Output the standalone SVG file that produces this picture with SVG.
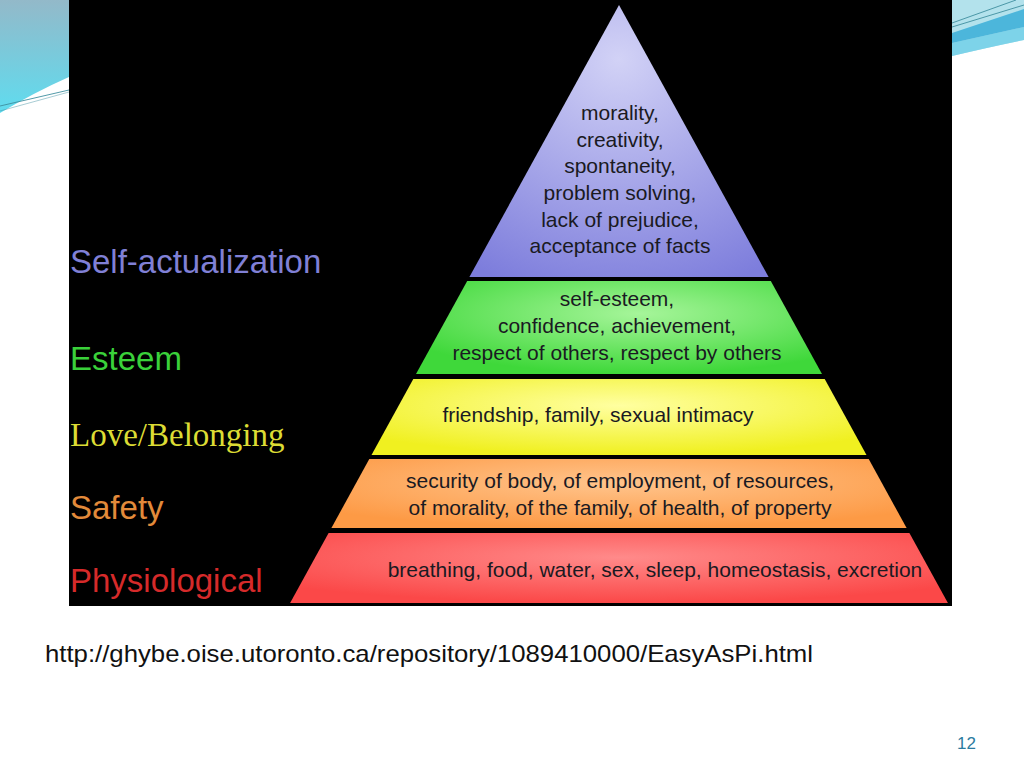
<svg xmlns="http://www.w3.org/2000/svg" width="1024" height="768" viewBox="0 0 1024 768">
<defs>
<linearGradient id="tlG" x1="0" y1="0" x2="0" y2="1">
<stop offset="0" stop-color="#93b9c9"/><stop offset="1" stop-color="#5fdcef"/>
</linearGradient>
<radialGradient id="gTop" cx="0.5" cy="0.2" r="0.9">
<stop offset="0" stop-color="#d2d2f6"/><stop offset="1" stop-color="#7d7ddc"/>
</radialGradient>
<radialGradient id="gGreen" cx="0.55" cy="0.35" r="0.65">
<stop offset="0" stop-color="#a6f59a"/><stop offset="1" stop-color="#3fd83a"/>
</radialGradient>
<radialGradient id="gYellow" cx="0.5" cy="0.35" r="0.65">
<stop offset="0" stop-color="#ffffa0"/><stop offset="1" stop-color="#f0f020"/>
</radialGradient>
<radialGradient id="gOrange" cx="0.5" cy="0.35" r="0.65">
<stop offset="0" stop-color="#ffc48c"/><stop offset="1" stop-color="#fd9a45"/>
</radialGradient>
<radialGradient id="gRed" cx="0.5" cy="0.35" r="0.65">
<stop offset="0" stop-color="#ff8a8a"/><stop offset="1" stop-color="#fb4848"/>
</radialGradient>
<style>
.tt{font-family:"Liberation Sans",Arial,sans-serif;font-size:21px;fill:#1a1a22;text-anchor:middle}
.lab{font-family:"Liberation Sans",Arial,sans-serif;font-size:33px}
.deco{fill:none;stroke:#3f8f9f;stroke-width:0.9}
</style>
</defs>
<rect x="0" y="0" width="1024" height="768" fill="#ffffff"/>
<g id="decoration">
<path d="M0,0 H69 V77 Q35,92 0,113 Z" fill="url(#tlG)"/>
<path class="deco" d="M0,106 L69,90"/>
<path class="deco" d="M0,111 L69,92" stroke-opacity="0.5"/>
<path d="M952,0 H1024 V40 Q990,47 952,56 Z" fill="#b3e2ec"/>
<path d="M952,43 L1024,27 V40 Q990,47 952,56 Z" fill="#7dd3e9"/>
<path d="M952,33 L1024,9 V27 L952,43 Z" fill="#4cb6db"/>
<path class="deco" d="M952,23 L1016,0"/>
<path class="deco" d="M952,27 L1024,5"/>
</g>
<rect id="panel" x="69" y="0" width="883" height="606" fill="#000000"/>
<g id="labels">
<text class="lab" x="70" y="273" fill="#8080d6">Self-actualization</text>
<text class="lab" x="70" y="370" fill="#3ad13a">Esteem</text>
<text class="lab" x="70" y="446" fill="#dcdc34" style="font-family:'Liberation Serif','Times New Roman',serif">Love/Belonging</text>
<text class="lab" x="70" y="519" fill="#e28a3a">Safety</text>
<text class="lab" x="70" y="592" fill="#d62a2a">Physiological</text>
</g>
<g id="tier-self-actualization">
<polygon points="619,5 768.6,277 469.4,277" fill="url(#gTop)"/>
<text class="tt" x="620" y="120">morality,</text>
<text class="tt" x="620" y="147">creativity,</text>
<text class="tt" x="620" y="173">spontaneity,</text>
<text class="tt" x="620" y="200">problem solving,</text>
<text class="tt" x="620" y="227">lack of prejudice,</text>
<text class="tt" x="620" y="253">acceptance of facts</text>
</g>
<g id="tier-esteem">
<polygon points="467.2,281 770.8,281 822,374 416,374" fill="url(#gGreen)"/>
<text class="tt" x="617" y="306">self-esteem,</text>
<text class="tt" x="617" y="333">confidence, achievement,</text>
<text class="tt" x="617" y="360">respect of others, respect by others</text>
</g>
<g id="tier-love">
<polygon points="413.3,379 824.7,379 866.5,455 371.5,455" fill="url(#gYellow)"/>
<text class="tt" x="598" y="422">friendship, family, sexual intimacy</text>
</g>
<g id="tier-safety">
<polygon points="369.3,459 868.7,459 906.6,528 331.4,528" fill="url(#gOrange)"/>
<text class="tt" x="620" y="488">security of body, of employment, of resources,</text>
<text class="tt" x="620" y="515">of morality, of the family, of health, of property</text>
</g>
<g id="tier-physiological">
<polygon points="328.6,533 909.4,533 947.9,603 290.1,603" fill="url(#gRed)"/>
<text class="tt" x="655" y="577">breathing, food, water, sex, sleep, homeostasis, excretion</text>
</g>
<g id="connectors"/>
<text id="url" x="45" y="662" font-family="'Liberation Sans',Arial,sans-serif" font-size="24" fill="#111111" textLength="768" lengthAdjust="spacingAndGlyphs">http://ghybe.oise.utoronto.ca/repository/1089410000/EasyAsPi.html</text>
<text id="page" x="957" y="749" font-family="'Liberation Sans',Arial,sans-serif" font-size="17" fill="#2b7ba0">12</text>
</svg>
